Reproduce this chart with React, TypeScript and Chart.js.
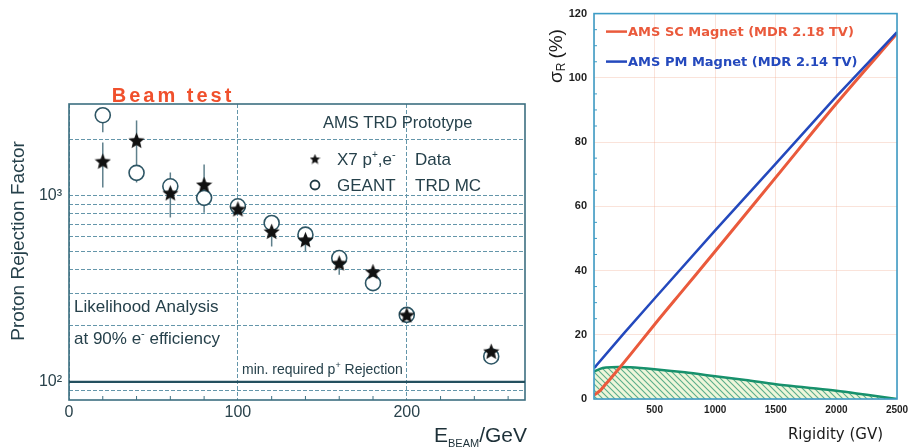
import React, { useEffect, useRef } from 'react';
import { Chart, registerables } from 'chart.js';

Chart.register(...registerables);

const FONT = '"Liberation Sans", Arial, sans-serif';

// ---------- Left chart data (Beam test) ----------
const beamEnergyGeV = [20, 40, 60, 80, 100, 120, 140, 160, 180, 200, 250];
const dataRejection = [1530, 1980, 1034, 1146, 848, 643, 580, 435, 391, 229, 146];
const dataErrLow = [1104, 1400, 763, 810, 848, 533, 502, 376, 391, 229, 146];
const dataErrHigh = [1927, 2530, 1330, 1468, 848, 700, 617, 470, 391, 229, 146];
const mcRejection = [2700, 1324, 1122, 972, 876, 713, 617, 462, 339, 229, 137];
const mcErrLow = [2190, 1175, 1122, 972, 876, 713, 617, 462, 339, 229, 137];
const mcErrHigh = [2700, 1324, 1122, 972, 876, 713, 617, 462, 339, 229, 137];
const minRequiredEnergy = [0, 270];
const minRequiredRejection = [100, 100];
const rejectionGridValues = [90, 100, 200, 300, 400, 500, 600, 700, 800, 900, 1000, 2000];
const rejectionTickLabels: Record<number, string> = { 100: '10²', 1000: '10³' };
const energyTickValues = [0, 100, 200];
const energyMinorTicks = [20, 40, 60, 80, 120, 140, 160, 180, 220, 240, 260];

// ---------- Right chart data (momentum resolution) ----------
const scRigidity = [0, 50, 100, 200, 300, 500, 750, 1000, 1500, 2000, 2500];
const scSigma = [1.2, 2.6, 4.8, 9.2, 13.8, 23.2, 34.6, 46, 69, 92, 113.8];
const pmRigidity = [0, 250, 500, 1000, 1500, 2000, 2500];
const pmSigma = [9.6, 20.6, 31.3, 52.5, 73.3, 94.2, 114.2];
const distRigidity = [0, 50, 100, 200, 300, 500, 750, 1000, 1250, 1500, 1750, 2000, 2250, 2500];
const distValue = [8.5, 9.4, 9.8, 10.0, 9.9, 9.3, 8.3, 7.1, 5.9, 4.6, 3.6, 2.6, 1.3, 0];
const sigmaMinorTicks = [5, 10, 15, 25, 30, 35, 45, 50, 55, 65, 70, 75, 85, 90, 95, 105, 110, 115];

type Seg = { t: string; size: number; dy?: number; weight?: string };

function drawRich(ctx: CanvasRenderingContext2D, segs: Seg[], x: number, y: number, color: string, align: 'left' | 'right' = 'left') {
  ctx.save();
  ctx.fillStyle = color;
  ctx.textBaseline = 'alphabetic';
  ctx.textAlign = 'left';
  const widths = segs.map((s) => {
    ctx.font = `${s.weight || 'normal'} ${s.size}px ${FONT}`;
    return ctx.measureText(s.t).width;
  });
  let cx = x;
  if (align === 'right') cx = x - widths.reduce((a, b) => a + b, 0);
  segs.forEach((s, i) => {
    ctx.font = `${s.weight || 'normal'} ${s.size}px ${FONT}`;
    ctx.fillText(s.t, cx, y + (s.dy || 0));
    cx += widths[i];
  });
  ctx.restore();
}

function makeStar(size: number, color: string): HTMLCanvasElement {
  const c = document.createElement('canvas');
  c.width = size;
  c.height = size;
  const g = c.getContext('2d')!;
  const cx = size / 2;
  const cy = size / 2 + size * 0.05;
  const R = size / 2;
  const r = R * 0.45;
  g.beginPath();
  for (let i = 0; i < 10; i++) {
    const a = -Math.PI / 2 + (i * Math.PI) / 5;
    const rad = i % 2 === 0 ? R : r;
    g.lineTo(cx + rad * Math.cos(a), cy + rad * Math.sin(a));
  }
  g.closePath();
  g.fillStyle = color;
  g.fill();
  return c;
}

function makeHatch(): CanvasPattern {
  const c = document.createElement('canvas');
  c.width = 6;
  c.height = 6;
  const g = c.getContext('2d')!;
  g.fillStyle = '#eef6da';
  g.fillRect(0, 0, 6, 6);
  g.strokeStyle = '#5aae8a';
  g.lineWidth = 1.1;
  g.beginPath();
  g.moveTo(0, 0); g.lineTo(6, 6);
  g.moveTo(-3, 3); g.lineTo(3, 9);
  g.moveTo(3, -3); g.lineTo(9, 3);
  g.stroke();
  return g.createPattern(c, 'repeat')!;
}

const LEFT_TEXT = '#26414b';
const LEFT_GRID = '#6496aa';
const LEFT_BOX = '#3c6f80';

export default function App() {
  const leftRef = useRef<HTMLCanvasElement>(null);
  const rightRef = useRef<HTMLCanvasElement>(null);

  useEffect(() => {
    const star = makeStar(17, '#111');
    const smallStar = makeStar(11, '#111');

    const leftPlugin = {
      id: 'leftDecor',
      beforeDatasetsDraw(chart: any) {
        const { ctx, chartArea: a, scales } = chart;
        const xs = scales.x;
        const ys = scales.y;
        ctx.save();
        ctx.strokeStyle = LEFT_BOX;
        ctx.lineWidth = 1;
        energyMinorTicks.forEach((v) => {
          const px = xs.getPixelForValue(v);
          ctx.beginPath();
          ctx.moveTo(px, a.bottom);
          ctx.lineTo(px, a.bottom - 4);
          ctx.stroke();
        });
        ctx.strokeStyle = LEFT_BOX;
        ctx.lineWidth = 1.6;
        ctx.strokeRect(a.left, a.top, a.right - a.left, a.bottom - a.top);
        ctx.strokeStyle = '#5f808c';
        ctx.lineWidth = 1.5;
        beamEnergyGeV.forEach((e, i) => {
          const px = xs.getPixelForValue(e);
          if (dataErrHigh[i] !== dataErrLow[i]) {
            ctx.beginPath();
            ctx.moveTo(px, ys.getPixelForValue(dataErrLow[i]));
            ctx.lineTo(px, ys.getPixelForValue(dataErrHigh[i]));
            ctx.stroke();
          }
          if (mcErrHigh[i] !== mcErrLow[i]) {
            ctx.beginPath();
            ctx.moveTo(px, ys.getPixelForValue(mcErrLow[i]));
            ctx.lineTo(px, ys.getPixelForValue(mcErrHigh[i]));
            ctx.stroke();
          }
        });
        ctx.restore();
      },
      afterDraw(chart: any) {
        const { ctx, chartArea: a } = chart;
        ctx.save();
        ctx.font = `bold 20px ${FONT}`;
        (ctx as any).letterSpacing = '3px';
        ctx.fillStyle = '#f0502c';
        ctx.textAlign = 'center';
        ctx.textBaseline = 'alphabetic';
        ctx.fillText('Beam test', a.left + 104, a.top - 2);
        (ctx as any).letterSpacing = '0px';
        ctx.restore();

        drawRich(ctx, [{ t: 'AMS TRD Prototype', size: 16.5 }], a.left + 254, a.top + 24, LEFT_TEXT);
        ctx.drawImage(smallStar, a.left + 246 - 5.5, a.top + 55 - 5.5);
        drawRich(ctx, [
          { t: 'X7 p', size: 17 },
          { t: '+', size: 10, dy: -7 },
          { t: ',e', size: 17 },
          { t: '-', size: 11, dy: -7 },
        ], a.left + 268, a.top + 61, LEFT_TEXT);
        drawRich(ctx, [{ t: 'Data', size: 17 }], a.left + 346, a.top + 61, LEFT_TEXT);
        ctx.save();
        ctx.strokeStyle = '#1f3a44';
        ctx.lineWidth = 1.8;
        ctx.beginPath();
        ctx.arc(a.left + 246, a.top + 81, 4.5, 0, Math.PI * 2);
        ctx.stroke();
        ctx.restore();
        drawRich(ctx, [{ t: 'GEANT', size: 17 }], a.left + 268, a.top + 87, LEFT_TEXT);
        drawRich(ctx, [{ t: 'TRD MC', size: 17 }], a.left + 346, a.top + 87, LEFT_TEXT);

        drawRich(ctx, [{ t: 'Likelihood Analysis', size: 17 }], a.left + 5, a.top + 208, LEFT_TEXT);
        drawRich(ctx, [
          { t: 'at 90% e', size: 17 },
          { t: '-', size: 11, dy: -7 },
          { t: ' efficiency', size: 17 },
        ], a.left + 5, a.top + 240, LEFT_TEXT);
        drawRich(ctx, [
          { t: 'min. required p', size: 14 },
          { t: '+', size: 9, dy: -6 },
          { t: ' Rejection', size: 14 },
        ], a.left + 173, a.top + 270, LEFT_TEXT);

        ctx.save();
        ctx.translate(19, (a.top + a.bottom) / 2 - 11);
        ctx.rotate(-Math.PI / 2);
        ctx.font = `19px ${FONT}`;
        ctx.fillStyle = LEFT_TEXT;
        ctx.textAlign = 'center';
        ctx.textBaseline = 'middle';
        ctx.fillText('Proton Rejection Factor', 0, 0);
        ctx.restore();

        drawRich(ctx, [
          { t: 'E', size: 21 },
          { t: 'BEAM', size: 11, dy: 5 },
          { t: '/GeV', size: 21 },
        ], a.right + 2, a.bottom + 42, '#1d3038', 'right');
      },
    };

    const left = new Chart(leftRef.current!, {
      type: 'scatter',
      data: {
        datasets: [
          {
            label: 'X7 p+,e- Data',
            data: beamEnergyGeV.map((x, i) => ({ x, y: dataRejection[i] })),
            pointStyle: star as any,
            pointRadius: 8,
            order: 0,
          },
          {
            label: 'GEANT TRD MC',
            data: beamEnergyGeV.map((x, i) => ({ x, y: mcRejection[i] })),
            pointStyle: 'circle',
            pointRadius: 7.5,
            borderColor: '#2e5665',
            borderWidth: 1.6,
            backgroundColor: '#ffffff',
            order: 1,
          },
          {
            label: 'min. required p+ Rejection',
            data: minRequiredEnergy.map((x, i) => ({ x, y: minRequiredRejection[i] })),
            showLine: true,
            pointRadius: 0,
            borderColor: '#24505f',
            borderWidth: 2.2,
            order: 2,
          } as any,
        ],
      },
      options: {
        responsive: false,
        animation: false,
        events: [],
        layout: { padding: { left: 0, top: 104, right: 15, bottom: 0 } },
        plugins: { legend: { display: false }, tooltip: { enabled: false } },
        scales: {
          x: {
            type: 'linear',
            min: 0,
            max: 270,
            afterBuildTicks: (s: any) => {
              s.ticks = energyTickValues.map((v) => ({ value: v }));
            },
            ticks: {
              autoSkip: false,
              color: '#2a434c',
              font: { family: FONT, size: 16 },
              padding: 3,
              maxRotation: 0,
            },
            grid: { color: LEFT_GRID, lineWidth: 1, drawTicks: false },
            border: { display: false, dash: [4, 2] },
            afterFit: (s: any) => {
              s.height = 47;
              s.paddingLeft = 0;
              s.paddingRight = 0;
            },
          },
          y: {
            type: 'logarithmic',
            min: 80,
            max: 3100,
            afterBuildTicks: (s: any) => {
              s.ticks = rejectionGridValues.map((v) => ({ value: v }));
            },
            ticks: {
              autoSkip: false,
              color: '#2a434c',
              font: { family: FONT, size: 16 },
              padding: 7,
              callback: (v: any) => rejectionTickLabels[Number(v)] || '',
            },
            grid: { color: LEFT_GRID, lineWidth: 1, drawTicks: false },
            border: { display: false, dash: [4, 2] },
            afterFit: (s: any) => {
              s.width = 69;
            },
          },
        },
      },
      plugins: [leftPlugin],
    } as any);

    const RED = '#ea5a3c';
    const BLUE = '#2449bd';
    const rightPlugin = {
      id: 'rightDecor',
      beforeDatasetsDraw(chart: any) {
        const { ctx, chartArea: a, scales } = chart;
        ctx.save();
        ctx.strokeStyle = '#3d9cc6';
        ctx.lineWidth = 1;
        sigmaMinorTicks.forEach((v) => {
          const py = scales.y.getPixelForValue(v);
          ctx.beginPath();
          ctx.moveTo(a.left, py);
          ctx.lineTo(a.left + 3, py);
          ctx.stroke();
        });
        ctx.restore();
      },
      afterDatasetsDraw(chart: any) {
        const { ctx, chartArea: a } = chart;
        ctx.save();
        ctx.strokeStyle = '#3d9cc6';
        ctx.lineWidth = 1.6;
        ctx.strokeRect(a.left, a.top, a.right - a.left, a.bottom - a.top);
        ctx.restore();
      },
      afterDraw(chart: any) {
        const { ctx, chartArea: a } = chart;
        ctx.save();
        const items = [
          { text: 'AMS SC Magnet (MDR 2.18 TV)', color: RED, y: a.top + 18 },
          { text: 'AMS PM Magnet (MDR 2.14 TV)', color: BLUE, y: a.top + 48 },
        ];
        items.forEach((it) => {
          ctx.strokeStyle = it.color;
          ctx.lineWidth = 2.5;
          ctx.beginPath();
          ctx.moveTo(a.left + 12, it.y);
          ctx.lineTo(a.left + 33, it.y);
          ctx.stroke();
          ctx.font = `bold 13px "DejaVu Sans", sans-serif`;
          ctx.fillStyle = it.color;
          ctx.textAlign = 'left';
          ctx.textBaseline = 'middle';
          ctx.fillText(it.text, a.left + 34, it.y + 1);
        });
        ctx.translate(17, 83);
        ctx.rotate(-Math.PI / 2);
        ctx.fillStyle = '#1a1a1a';
        ctx.textAlign = 'left';
        ctx.textBaseline = 'middle';
        ctx.font = `19px ${FONT}`;
        ctx.fillText('σ', 0, 0);
        let w = ctx.measureText('σ').width;
        ctx.font = `12px ${FONT}`;
        ctx.fillText('R', w, 5);
        w += ctx.measureText('R').width + 4;
        ctx.font = `19px ${FONT}`;
        ctx.fillText('(%)', w, 0);
        ctx.restore();
        ctx.save();
        ctx.font = `15px "DejaVu Sans", sans-serif`;
        ctx.fillStyle = '#1a1a1a';
        ctx.textAlign = 'right';
        ctx.textBaseline = 'middle';
        ctx.fillText('Rigidity (GV)', a.right - 14, a.bottom + 36);
        ctx.restore();
      },
    };

    const right = new Chart(rightRef.current!, {
      type: 'scatter',
      data: {
        datasets: [
          {
            label: 'AMS PM Magnet (MDR 2.14 TV)',
            data: pmRigidity.map((x, i) => ({ x, y: pmSigma[i] })),
            showLine: true,
            pointRadius: 0,
            borderColor: BLUE,
            borderWidth: 2.5,
            order: 0,
          },
          {
            label: 'AMS SC Magnet (MDR 2.18 TV)',
            data: scRigidity.map((x, i) => ({ x, y: scSigma[i] })),
            showLine: true,
            pointRadius: 0,
            borderColor: RED,
            borderWidth: 3,
            cubicInterpolationMode: 'monotone',
            order: 1,
          },
          {
            label: 'Rigidity distribution',
            data: distRigidity.map((x, i) => ({ x, y: distValue[i] })),
            showLine: true,
            pointRadius: 0,
            borderColor: '#17916c',
            borderWidth: 2.5,
            backgroundColor: makeHatch(),
            fill: 'origin',
            cubicInterpolationMode: 'monotone',
            order: 2,
          },
        ] as any,
      },
      options: {
        responsive: false,
        animation: false,
        events: [],
        layout: { padding: { left: 0, top: 12, right: 12, bottom: 0 } },
        plugins: { legend: { display: false }, tooltip: { enabled: false } },
        scales: {
          x: {
            type: 'linear',
            min: 0,
            max: 2500,
            ticks: {
              stepSize: 500,
              color: '#1f1f1f',
              font: { family: FONT, size: 10, weight: 'bold' },
              padding: 5,
              maxRotation: 0,
              callback: (v: any) => (Number(v) === 0 ? '' : String(v)),
            },
            grid: { color: 'rgba(240,175,150,0.35)', lineWidth: 1, drawTicks: false },
            border: { display: false },
            afterFit: (s: any) => {
              s.height = 48;
              s.paddingLeft = 0;
              s.paddingRight = 0;
            },
          },
          y: {
            type: 'linear',
            min: 0,
            max: 120,
            ticks: {
              stepSize: 20,
              color: '#1f1f1f',
              font: { family: FONT, size: 11, weight: 'bold' },
              padding: 7,
            },
            grid: { color: 'rgba(240,175,150,0.35)', lineWidth: 1, drawTicks: false },
            border: { display: false },
            afterFit: (s: any) => {
              s.width = 54;
            },
          },
        },
      },
      plugins: [rightPlugin],
    } as any);

    return () => {
      left.destroy();
      right.destroy();
    };
  }, []);

  return (
    <div style={{ position: 'absolute', left: 0, top: 0, width: 909, height: 447, background: '#ffffff', overflow: 'hidden' }}>
      <canvas ref={leftRef} width={540} height={447} style={{ position: 'absolute', left: 0, top: 0 }} />
      <canvas ref={rightRef} width={369} height={447} style={{ position: 'absolute', left: 540, top: 0 }} />
    </div>
  );
}
